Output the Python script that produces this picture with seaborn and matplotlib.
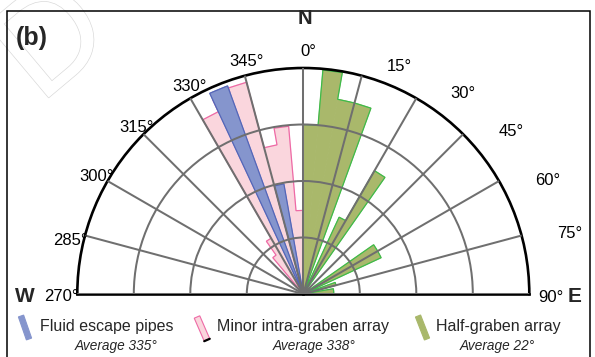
import numpy as np
import matplotlib
matplotlib.use("Agg")
import matplotlib.pyplot as plt
import seaborn as sns
from matplotlib.patches import Polygon, Rectangle
from matplotlib.lines import Line2D
import matplotlib.patheffects as pe

# ---- data: strike-direction frequencies in 5-degree bins (bin start azimuth) ----
BIN = 5
pipe_bins = [335, 345]
pipe_freq = [19.6, 9.9]

minor_bins = [320, 325, 330, 335, 340, 345, 350, 355]
minor_freq = [4.2, 5.7, 17.8, 19.0, 19.4, 13.4, 14.9, 7.4]

half_bins = [0, 5, 10, 15, 25, 30, 55, 60, 70, 80, 85]
half_freq = [15.0, 19.9, 17.5, 17.5, 7.5, 12.6, 7.6, 7.6, 3.0, 2.7, 2.7]

series_names = ["Fluid escape pipes", "Minor intra-graben array", "Half-graben array"]
series_means = ["Average 335°", "Average 338°", "Average 22°"]

angle_ticks = [270, 285, 300, 315, 330, 345, 0, 15, 30, 45, 60, 75, 90]
ring_levels = [5, 10, 15]
R_MAX = 20

# ---- styling ----
sns.set_theme(style="white")
plt.rcParams["font.family"] = ["Liberation Sans", "DejaVu Sans"]

W, H, DPI = 595, 357, 100
fig = plt.figure(figsize=(W / DPI, H / DPI), dpi=DPI)
fig.patch.set_facecolor("white")


def fpx(x, y):
    """pixel position (origin top-left) -> figure fraction"""
    return (x / W, 1 - y / H)


def signed(az):
    return ((np.asarray(az, dtype=float) + 180) % 360) - 180


# half rose axes: centre and radius in pixels.  The polar axes keep a square
# box and centre the half disc in it, so the box is 2R x 2R.
cx, cy, R = 303.3, 294.0, 226.0
box_top = cy - R - R / 2
ax = fig.add_axes([(cx - R) / W, (H - (box_top + 2 * R)) / H, 2 * R / W, 2 * R / H],
                  projection="polar")
ax.set_theta_zero_location("N")
ax.set_theta_direction(-1)
ax.set_thetamin(-90)
ax.set_thetamax(90)
ax.set_ylim(0, R_MAX)
ax.set_thetagrids(signed(angle_ticks), labels=[""] * len(angle_ticks))
ax.set_rgrids(ring_levels, labels=[""] * len(ring_levels))
ax.grid(True, color="#6f6f6f", lw=1.45)
ax.set_axisbelow(False)
ax.tick_params(length=0, pad=0)
for name in ("polar", "start", "end"):
    ax.spines[name].set(color="black", lw=1.9)
ax.spines["inner"].set_visible(False)


def rose(bins, freq, face, edge, z, ew=0.9):
    theta = np.deg2rad(signed(np.asarray(bins) + BIN / 2))
    ax.bar(theta, freq, width=np.deg2rad(BIN), bottom=0, color=face,
           edgecolor=face, linewidth=0.6, zorder=z)
    # outline of each contiguous group of bins
    order = np.argsort(signed(bins))
    b = signed(bins)[order]
    f = np.asarray(freq)[order]
    ts, rs = [], []
    prev_end = None
    for start, val in zip(b, f):
        if prev_end is None or start != prev_end:
            if prev_end is not None:
                ts += [prev_end, np.nan]
                rs += [0, np.nan]
            ts.append(start)
            rs.append(0)
        ts += [start, start + BIN]
        rs += [val, val]
        prev_end = start + BIN
    ts.append(prev_end)
    rs.append(0)
    ax.plot(np.deg2rad(ts), rs, color=edge, lw=ew, zorder=z + 0.05,
            solid_joinstyle="miter")


rose(minor_bins, minor_freq, "#fad6dd", "#ee6aa6", 1.0)
rose(pipe_bins, pipe_freq, "#8595cd", "#5566b8", 1.2)
rose(half_bins, half_freq, "#a9b86b", "#3dbb4a", 1.4)

# ---- azimuth labels ----
label_pos = [(-90.7, 21.45), (-77.0, 21.2), (-60.4, 21.0), (-44.9, 20.85),
             (-28.7, 20.9), (-13.6, 21.2), (1.3, 21.5), (22.8, 21.85),
             (38.5, 22.7), (52.0, 23.3), (65.1, 23.8), (77.3, 24.2), (90.7, 21.9)]
for a, (th, rr) in zip(angle_ticks, label_pos):
    ax.text(np.deg2rad(th), rr, f"{a}°", ha="center", va="center",
            fontsize=12, color="black", clip_on=False)

fig.text(*fpx(305, 19), "N", ha="center", va="center", fontsize=14.5, fontweight="bold")
fig.text(*fpx(25, 297), "W", ha="center", va="center", fontsize=15, fontweight="bold")
fig.text(*fpx(575, 297), "E", ha="center", va="center", fontsize=15, fontweight="bold")
fig.text(*fpx(32, 38), "(b)", ha="center", va="center", fontsize=18, fontweight="bold",
         zorder=5)

# faint watermark lettering in the corner
fig.text(*fpx(-25, 45), "D", ha="left", va="center", fontsize=100, rotation=40,
         color="white", path_effects=[pe.withStroke(linewidth=1.0, foreground="#dadada")],
         zorder=0)

# panel frame
fig.add_artist(Rectangle(fpx(6.5, 372), (589.5 - 6.5) / W, (372 - 10.5) / H,
                         transform=fig.transFigure, fill=False, ec="black", lw=1.1))


# ---- legend ----
def stroke_icon(x0, y0, x1, y1, w, face, edge, lw=0.8):
    d = np.array([x1 - x0, y1 - y0], float)
    d /= np.hypot(*d)
    n = np.array([-d[1], d[0]]) * w / 2
    pts = [(x0 + n[0], y0 + n[1]), (x1 + n[0], y1 + n[1]),
           (x1 - n[0], y1 - n[1]), (x0 - n[0], y0 - n[1])]
    poly = Polygon([fpx(*p) for p in pts], closed=True, transform=fig.transFigure,
                   fc=face, ec=edge, lw=lw)
    fig.add_artist(poly)
    return pts


stroke_icon(21, 316, 29, 339, 5.5, "#8595cd", "#8595cd")
pts = stroke_icon(197, 317, 207, 340, 6, "#fad6dd", "#ee6aa6", 0.8)
fig.add_artist(Line2D([fpx(*pts[1])[0], fpx(*pts[2])[0]], [fpx(*pts[1])[1], fpx(*pts[2])[1]],
                      transform=fig.transFigure, color="black", lw=1.6))
stroke_icon(418, 316, 427, 339, 5.5, "#a9b86b", "#a9b86b")

legend_x = [40, 217, 436]
mean_x = [75, 273, 460]
for name, mean, lx, mx in zip(series_names, series_means, legend_x, mean_x):
    fig.text(*fpx(lx, 326), name, ha="left", va="center", fontsize=11.5)
    fig.text(*fpx(mx, 346), mean, ha="left", va="center", fontsize=9.8, style="italic")

fig.savefig("out.png", dpi=DPI)
